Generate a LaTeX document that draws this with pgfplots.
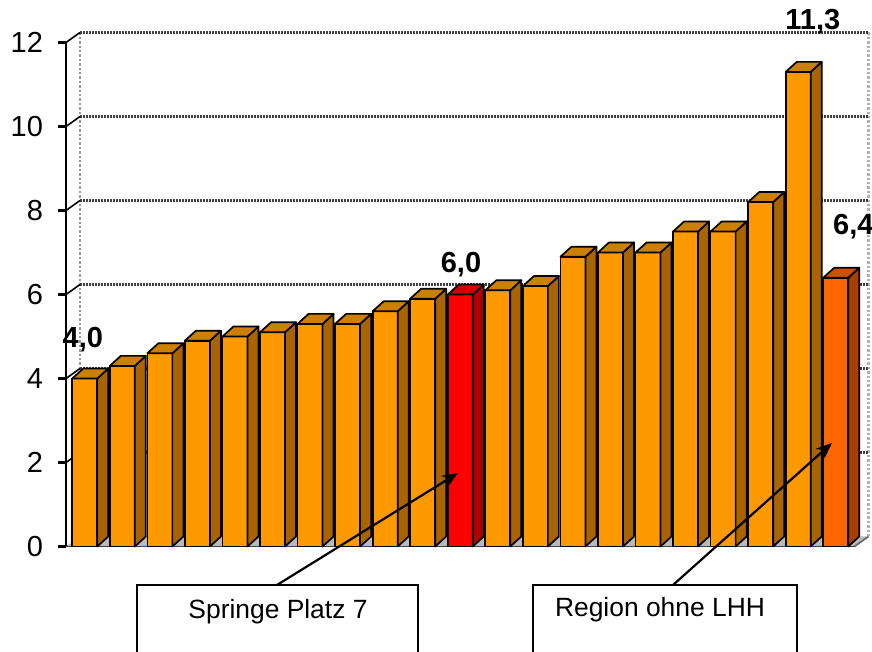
\documentclass[border=0pt]{standalone}
\usepackage{pgfplots}
\pgfplotsset{compat=1.18}
\usetikzlibrary{arrows.meta}
\usepackage{fontspec}
\setmainfont{Liberation Sans}
\definecolor{ofront}{HTML}{FF9900}
\definecolor{oside}{HTML}{A86400}
\definecolor{otop}{HTML}{CC8000}
\definecolor{rfront}{HTML}{FF0000}
\definecolor{rside}{HTML}{B00000}
\definecolor{rtop}{HTML}{D00000}
\definecolor{dfront}{HTML}{FF6600}
\definecolor{dside}{HTML}{A84000}
\definecolor{dtop}{HTML}{CC5200}
\pgfdeclareplotmark{nothing}{}
\pgfplotsset{
  bar3d/.style n args={3}{
    scatter, only marks, mark=nothing,
    visualization depends on={rawy \as \yv},
    scatter/@pre marker code/.code={%
      \pgfmathsetmacro\hb{-(\yv)*21}%
      \pgfmathsetmacro\hc{-(\yv)*21+5}%
      \begin{scope}
      \filldraw[fill=#1, draw=black, line width=0.85pt, line join=round] (-6.25pt,\hb pt) rectangle (6.25pt,0pt);
      \filldraw[fill=#2, draw=black, line width=0.85pt, line join=round] (6.25pt,\hb pt) -- (11.75pt,\hc pt) -- (11.75pt,5pt) -- (6.25pt,0pt) -- cycle;
      \filldraw[fill=#3, draw=black, line width=0.85pt, line join=round] (-6.25pt,0pt) -- (-0.75pt,5pt) -- (11.75pt,5pt) -- (6.25pt,0pt) -- cycle;
      \end{scope}
    },
    scatter/@post marker code/.code={},
  },
}
\begin{document}
\begin{tikzpicture}
\useasboundingbox (-33pt,-52.75pt) rectangle (403pt,273.25pt);
\begin{axis}[
  at={(0,0)}, anchor=south west,
  x=18.775pt, y=21pt,
  xmin=0.5, xmax=21.5, ymin=0, ymax=12,
  axis x line*=bottom, axis y line*=left,
  axis line style={-, black, line width=1pt},
  xtick=\empty,
  ytick={0,2,4,6,8,10,12},
  tick align=outside, major tick length=4pt,
  tick style={black, line width=1.2pt},
  /pgf/number format/assume math mode=true,
  yticklabel style={font=\fontsize{14.5}{16}\selectfont, xshift=-4pt},
  clip=false,
  point meta min=0, point meta max=12,
]
% floor
\fill[gray!55] (axis cs:0.5,0) -- (axis cs:21.5,0) -- ([shift={(7pt,5pt)}]axis cs:21.5,0) -- ([shift={(7pt,5pt)}]axis cs:0.5,0) -- cycle;
% wall edges
\draw[black!40, densely dotted, line width=1.2pt] ([shift={(7pt,5pt)}]axis cs:0.5,0) -- ([shift={(7pt,5pt)}]axis cs:0.5,12);
\draw[black!30, densely dotted, line width=1.2pt] ([shift={(7pt,5pt)}]axis cs:21.5,0) -- ([shift={(7pt,5pt)}]axis cs:21.5,12);
\draw[black!60, line width=0.8pt] (axis cs:21.5,0) -- ([shift={(7pt,5pt)}]axis cs:21.5,0);
\pgfplotsinvokeforeach{2,4,6,8,10,12}{
  \draw[black!75, dash pattern=on 1pt off 0.5pt, line width=1.3pt] ([shift={(7pt,5pt)}]axis cs:0.5,#1) -- ([shift={(7pt,5pt)}]axis cs:21.5,#1);
  \draw[black, line width=0.8pt] (axis cs:0.5,#1) -- ([shift={(7pt,5pt)}]axis cs:0.5,#1);
}
% bars
\addplot[bar3d={ofront}{oside}{otop}] coordinates {
  (1,4.0) (2,4.3) (3,4.6) (4,4.9) (5,5.0) (6,5.1) (7,5.3) (8,5.3) (9,5.6) (10,5.9)
  (12,6.1) (13,6.2) (14,6.9) (15,7.0) (16,7.0) (17,7.5) (18,7.5) (19,8.2) (20,11.3)
};
\addplot[bar3d={rfront}{rside}{rtop}] coordinates {(11,6.0)};
\addplot[bar3d={dfront}{dside}{dtop}] coordinates {(21,6.4)};
% value labels
\node[font=\fontsize{14.5}{16}\selectfont\bfseries] at (axis cs:0.95,4.92) {4,0};
\node[font=\fontsize{14.5}{16}\selectfont\bfseries] at (axis cs:11.02,6.70) {6,0};
\node[font=\fontsize{14.5}{16}\selectfont\bfseries] at (axis cs:20.39,12.49) {11,3};
\node[font=\fontsize{14.5}{16}\selectfont\bfseries, anchor=west, inner sep=0pt] at (axis cs:20.92,7.61) {6,4};
\end{axis}
% callouts
\draw[black, line width=0.7pt] (35.5pt,-19.25pt) rectangle (176pt,-60pt);
\draw[black, line width=0.7pt] (233.5pt,-19.25pt) rectangle (365.5pt,-60pt);
\node[font=\fontsize{13.2}{15}\selectfont] at (106pt,-32.75pt) {Springe Platz 7};
\node[font=\fontsize{13.2}{15}\selectfont] at (297pt,-31.75pt) {Region ohne LHH};
\draw[-{Stealth[length=8pt,width=6.5pt]}, line width=1.1pt] (105.5pt,-19.25pt) -- (196pt,36.75pt);
\draw[-{Stealth[length=8pt,width=6.5pt]}, line width=1.1pt] (303.5pt,-19.25pt) -- (383pt,51.75pt);
\end{tikzpicture}
\end{document}
